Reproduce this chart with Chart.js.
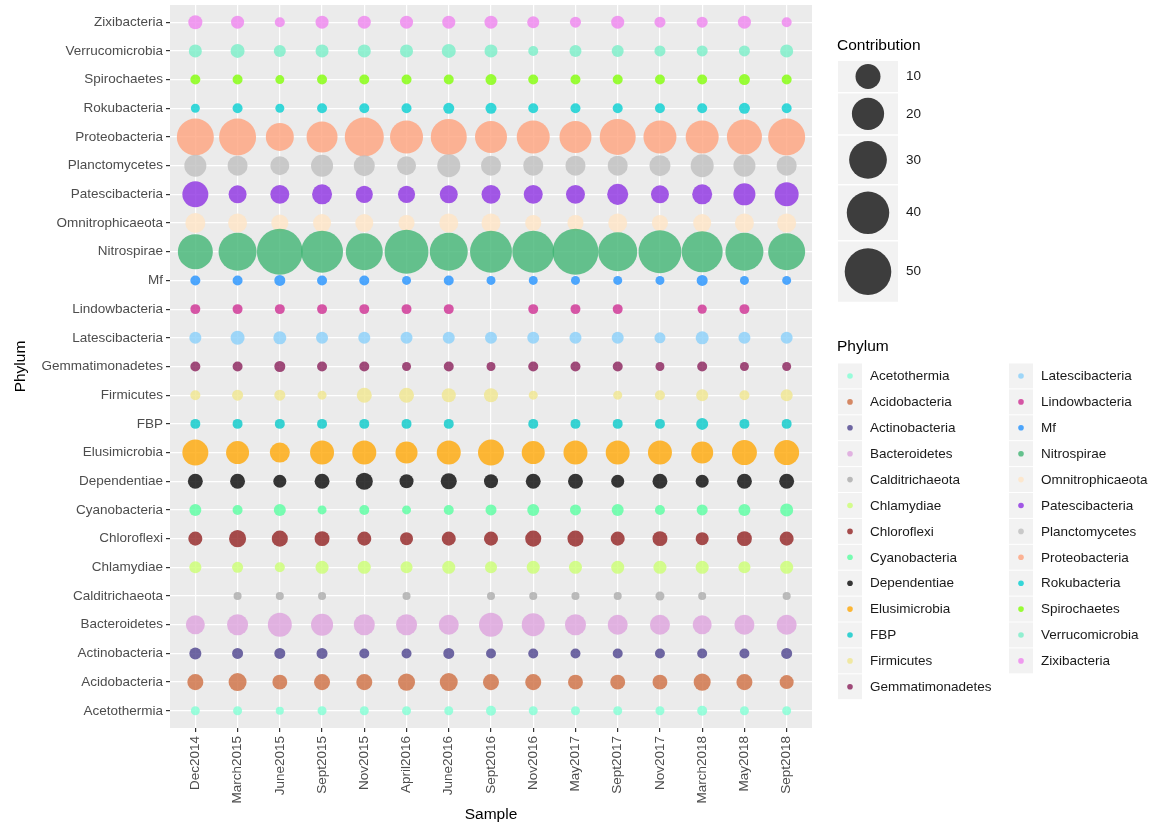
<!DOCTYPE html>
<html>
<head>
<meta charset="utf-8">
<script src="https://cdn.jsdelivr.net/npm/chart.js@4"></script>
<style>
  html, body { margin: 0; padding: 0; background: #fff; }
  #wrap { width: 1155px; height: 826px; }
</style>
</head>
<body>
<div id="wrap"><canvas id="bubbleChart" width="1155" height="826"></canvas></div>
<script>
const samples = ['Dec2014', 'March2015', 'June2015', 'Sept2015', 'Nov2015', 'April2016', 'June2016',
  'Sept2016', 'Nov2016', 'May2017', 'Sept2017', 'Nov2017', 'March2018', 'May2018', 'Sept2018'];

// bottom to top
const phyla = ['Acetothermia', 'Acidobacteria', 'Actinobacteria', 'Bacteroidetes', 'Calditrichaeota',
  'Chlamydiae', 'Chloroflexi', 'Cyanobacteria', 'Dependentiae', 'Elusimicrobia', 'FBP', 'Firmicutes',
  'Gemmatimonadetes', 'Latescibacteria', 'Lindowbacteria', 'Mf', 'Nitrospirae', 'Omnitrophicaeota',
  'Patescibacteria', 'Planctomycetes', 'Proteobacteria', 'Rokubacteria', 'Spirochaetes',
  'Verrucomicrobia', 'Zixibacteria'];

const phylumColors = ['#7FFFD4', '#CD6A3C', '#483D8B', '#DDA0DD', '#A9A9A9',
  '#CAFF70', '#901C1C', '#54FF9F', '#000000', '#FFA500', '#00C8C8', '#F0E68C',
  '#861A56', '#87CEFA', '#CD2990', '#1E90FF', '#3CB371', '#FFE4C4',
  '#8A2BE2', '#BEBEBE', '#FFA07A', '#00CED1', '#7FFF00',
  '#76EEC6', '#EE82EE'];

// contribution (%) per sample, null = not detected
const acetothermia     = [0.07, 0.07, 0.01, 0.07, 0.07, 0.07, 0.07, 0.2, 0.07, 0.07, 0.07, 0.07, 0.2, 0.07, 0.07];
const acidobacteria    = [2.4, 3.6, 1.8, 2.4, 2.4, 3.0, 3.6, 2.4, 2.4, 1.8, 1.8, 1.8, 3.0, 2.4, 1.4];
const actinobacteria   = [0.66, 0.4, 0.4, 0.4, 0.2, 0.2, 0.4, 0.2, 0.2, 0.2, 0.2, 0.2, 0.2, 0.2, 0.4];
const bacteroidetes    = [4.3, 6.0, 8.9, 6.9, 6.0, 6.0, 5.1, 8.9, 7.9, 6.0, 5.1, 5.1, 4.3, 5.1, 5.1];
const calditrichaeota  = [null, 0.01, 0.01, 0.01, null, 0.01, null, 0.01, 0.01, 0.01, 0.01, 0.07, 0.01, null, 0.01];
const chlamydiae       = [0.66, 0.4, 0.2, 1.0, 1.0, 0.66, 1.0, 0.66, 1.0, 1.0, 1.0, 1.0, 1.0, 0.66, 1.0];
const chloroflexi      = [1.4, 3.0, 2.4, 1.8, 1.4, 1.0, 1.4, 1.4, 2.4, 2.4, 1.4, 1.8, 1.0, 1.8, 1.4];
const cyanobacteria    = [0.66, 0.2, 0.66, 0.07, 0.2, 0.07, 0.2, 0.4, 0.66, 0.4, 0.66, 0.2, 0.4, 0.66, 1.0];
const dependentiae     = [1.8, 1.8, 1.0, 1.8, 3.0, 1.4, 2.4, 1.4, 1.8, 1.8, 1.0, 1.8, 1.0, 1.8, 1.8];
const elusimicrobia    = [11.2, 7.9, 5.1, 8.9, 8.9, 6.9, 8.9, 11.2, 7.9, 8.9, 8.9, 8.9, 6.9, 10.0, 10.0];
const fbp              = [0.2, 0.2, 0.2, 0.2, 0.2, 0.2, 0.2, null, 0.2, 0.2, 0.2, 0.2, 0.66, 0.2, 0.2];
const firmicutes       = [0.2, 0.4, 0.4, 0.07, 1.8, 1.8, 1.4, 1.4, 0.07, null, 0.07, 0.2, 0.66, 0.2, 0.66];
const gemmatimonadetes = [0.2, 0.2, 0.4, 0.2, 0.2, 0.07, 0.2, 0.07, 0.2, 0.2, 0.2, 0.07, 0.2, 0.07, 0.07];
const latescibacteria  = [0.66, 1.4, 1.0, 0.66, 0.66, 0.66, 0.66, 0.66, 0.66, 0.66, 0.66, 0.4, 1.0, 0.66, 0.66];
const lindowbacteria   = [0.2, 0.2, 0.2, 0.2, 0.2, 0.2, 0.2, null, 0.2, 0.2, 0.2, null, 0.1, 0.2, null];
const mf               = [0.2, 0.2, 0.4, 0.2, 0.2, 0.07, 0.2, 0.07, 0.07, 0.07, 0.07, 0.07, 0.4, 0.07, 0.07];
const nitrospirae      = [24.8, 30.5, 48.3, 38.8, 28.5, 43.3, 30.5, 38.8, 38.8, 48.3, 32.5, 41.0, 36.7, 30.5, 28.5];
const omnitrophicaeota = [5.1, 4.3, 3.0, 3.6, 3.6, 2.4, 4.3, 4.3, 2.4, 2.4, 4.3, 2.4, 3.6, 4.3, 4.3];
const patescibacteria  = [11.2, 3.6, 4.3, 5.1, 3.0, 3.0, 3.6, 4.3, 4.3, 4.3, 6.0, 3.6, 5.1, 6.9, 8.9];
const planctomycetes   = [6.9, 5.1, 4.3, 6.9, 6.0, 4.3, 7.9, 5.1, 5.1, 5.1, 5.1, 6.0, 7.9, 6.9, 5.1];
const proteobacteria   = [28.5, 28.5, 13.7, 18.0, 32.5, 21.3, 26.6, 19.6, 21.3, 19.6, 26.6, 21.3, 21.3, 24.8, 28.5];
const rokubacteria     = [0.07, 0.2, 0.07, 0.2, 0.2, 0.2, 0.4, 0.4, 0.2, 0.2, 0.2, 0.2, 0.2, 0.4, 0.2];
const spirochaetes     = [0.2, 0.2, 0.07, 0.2, 0.2, 0.2, 0.2, 0.4, 0.2, 0.2, 0.2, 0.2, 0.2, 0.4, 0.2];
const verrucomicrobia  = [1.0, 1.4, 0.66, 1.0, 1.0, 1.0, 1.4, 1.0, 0.2, 0.66, 0.66, 0.4, 0.4, 0.4, 1.0];
const zixibacteria     = [1.4, 1.0, 0.2, 1.0, 1.0, 1.0, 1.0, 1.0, 0.66, 0.4, 1.0, 0.4, 0.4, 1.0, 0.2];

const contributions = [acetothermia, acidobacteria, actinobacteria, bacteroidetes, calditrichaeota,
  chlamydiae, chloroflexi, cyanobacteria, dependentiae, elusimicrobia, fbp, firmicutes,
  gemmatimonadetes, latescibacteria, lindowbacteria, mf, nitrospirae, omnitrophicaeota,
  patescibacteria, planctomycetes, proteobacteria, rokubacteria, spirochaetes,
  verrucomicrobia, zixibacteria];

const sizeBreaks = [10, 20, 30, 40, 50];

const FONT = '"Liberation Sans", Arial, sans-serif';
const ALPHA = 0.78;

// area-like size scale, same for the plot and the Contribution legend
function bubbleDiameter(v) {
  return 7.5 + 41 * Math.sqrt(v / 55);
}

function withAlpha(hex, a) {
  const n = parseInt(hex.slice(1), 16);
  return `rgba(${(n >> 16) & 255}, ${(n >> 8) & 255}, ${n & 255}, ${a})`;
}

const datasets = phyla.map((name, j) => ({
  label: name,
  data: contributions[j]
    .map((v, i) => v == null ? null : { x: i, y: j, r: bubbleDiameter(v) / 2 })
    .filter(p => p),
  backgroundColor: withAlpha(phylumColors[j], ALPHA),
  borderWidth: 0,
  hoverBorderWidth: 0,
  hoverRadius: 0
}));

const panelBg = {
  id: 'panelBg',
  beforeDraw(chart) {
    const { ctx, chartArea: a } = chart;
    ctx.save();
    ctx.fillStyle = '#ebebeb';
    ctx.fillRect(a.left, a.top, a.right - a.left, a.bottom - a.top);
    ctx.restore();
  }
};

const sideLegends = {
  id: 'sideLegends',
  afterDraw(chart) {
    const ctx = chart.ctx;
    ctx.save();
    ctx.textBaseline = 'middle';
    ctx.textAlign = 'left';

    // Contribution (size) legend
    ctx.fillStyle = '#000';
    ctx.font = `15.5px ${FONT}`;
    ctx.fillText('Contribution', 837, 46);
    let y = 61;
    sizeBreaks.forEach(v => {
      const d = bubbleDiameter(v);
      const h = d + 6 + (d - 25) * 0.35;
      ctx.fillStyle = '#f2f2f2';
      ctx.fillRect(838, y, 60, h);
      ctx.fillStyle = 'rgba(0, 0, 0, 0.75)';
      ctx.beginPath();
      ctx.arc(868, y + h / 2, d / 2, 0, Math.PI * 2);
      ctx.fill();
      ctx.fillStyle = '#1a1a1a';
      ctx.font = `13.5px ${FONT}`;
      ctx.fillText(String(v), 906, y + h / 2);
      y += h + 1.5;
    });

    // Phylum (colour) legend, two columns
    ctx.fillStyle = '#000';
    ctx.font = `15.5px ${FONT}`;
    ctx.fillText('Phylum', 837, 347);
    const perCol = 13;
    phyla.forEach((name, j) => {
      const col = Math.floor(j / perCol);
      const row = j % perCol;
      const bx = col === 0 ? 838 : 1009;
      const by = 363.5 + row * 25.9;
      ctx.fillStyle = '#f2f2f2';
      ctx.fillRect(bx, by, 24, 24.9);
      ctx.fillStyle = withAlpha(phylumColors[j], ALPHA);
      ctx.beginPath();
      ctx.arc(bx + 12, by + 12.5, 2.8, 0, Math.PI * 2);
      ctx.fill();
      ctx.fillStyle = '#1a1a1a';
      ctx.font = `13.5px ${FONT}`;
      ctx.fillText(name, bx + 32, by + 13);
    });
    ctx.restore();
  }
};

const ctx = document.getElementById('bubbleChart').getContext('2d');
new Chart(ctx, {
  type: 'bubble',
  data: { datasets },
  options: {
    responsive: false,
    animation: false,
    events: [],
    layout: { autoPadding: false, padding: { left: 0, top: 5, right: 343, bottom: 0 } },
    plugins: {
      legend: { display: false },
      tooltip: { enabled: false }
    },
    scales: {
      x: {
        type: 'linear',
        min: -0.6,
        max: samples.length - 0.4,
        afterBuildTicks: axis => { axis.ticks = samples.map((s, i) => ({ value: i })); },
        afterFit: axis => { axis.height = 98; axis.paddingLeft = 0; axis.paddingRight = 0; },
        grid: { color: '#ffffff', lineWidth: 1.2, tickColor: '#333333', tickLength: 4, drawTicks: true },
        border: { display: false },
        ticks: {
          callback: v => samples[v],
          minRotation: 90,
          maxRotation: 90,
          autoSkip: false,
          color: '#4d4d4d',
          font: { family: FONT, size: 13.5 },
          padding: 4
        },
        title: { display: true, text: 'Sample', color: '#000', font: { family: FONT, size: 15.5 }, padding: { top: 0, bottom: 2 } }
      },
      y: {
        type: 'linear',
        min: -0.6,
        max: phyla.length - 0.4,
        afterBuildTicks: axis => { axis.ticks = phyla.map((p, j) => ({ value: j })); },
        afterFit: axis => { axis.width = 170; axis.paddingTop = 0; axis.paddingBottom = 0; },
        grid: { color: '#ffffff', lineWidth: 1.2, tickColor: '#333333', tickLength: 4, drawTicks: true },
        border: { display: false },
        ticks: {
          callback: v => phyla[v],
          autoSkip: false,
          color: '#4d4d4d',
          font: { family: FONT, size: 13.5 },
          padding: 3
        },
        title: { display: true, text: 'Phylum', color: '#000', font: { family: FONT, size: 15.5 }, padding: { top: 11, bottom: 0 } }
      }
    }
  },
  plugins: [panelBg, sideLegends]
});
</script>
</body>
</html>
